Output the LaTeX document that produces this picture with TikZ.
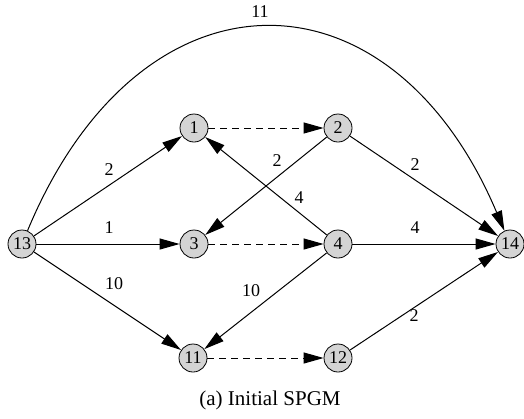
\documentclass[tikz,border=0pt]{standalone}
\usepackage{fontspec}
\setmainfont{Liberation Serif}
\usetikzlibrary{arrows.meta}

\begin{document}
\begin{tikzpicture}[x=1pt,y=-1pt,
	vertex/.style={ circle, draw, line width=0.8pt, fill=black!17, inner sep=0pt, minimum size=28pt, font=\fontsize{18}{18}\selectfont },
	weight/.style={ inner sep=0pt, font=\fontsize{18}{18}\selectfont },
	dep/.style={ line width=1pt, -{Triangle[length=20pt,width=11pt]} },
	seq/.style={ dep, dash pattern=on 7pt off 5pt }
]
\useasboundingbox (0,0) rectangle (524,418);

\node at (22,244) (v13) [vertex] {13};
\node at (194,128) (v1) [vertex] {1};
\node at (338,128) (v2) [vertex] {2};
\node at (194,244) (v3) [vertex] {3};
\node at (338,244) (v4) [vertex] {4};
\node at (510,244) (v14) [vertex] {14};
\node at (193,358) (v11) [vertex] {11};
\node at (338,358) (v12) [vertex] {12};

\draw[dep] (v13) to (v1);
\draw[dep] (v13) to (v3);
\draw[dep] (v13) to (v11);
\draw[dep] (v13) .. controls (140,-40) and (390,-40) .. (v14);
\draw[seq] (v1) to (v2);
\draw[seq] (v3) to (v4);
\draw[seq] (v11) to (v12);
\draw[dep] (v2) to (v3);
\draw[dep] (v4) to (v1);
\draw[dep] (v2) to (v14);
\draw[dep] (v4) to (v14);
\draw[dep] (v4) to (v11);
\draw[dep] (v12) to (v14);

\node at (109,170) (w1) [weight] {2};
\node at (109,228) (w2) [weight] {1};
\node at (114,284) (w3) [weight] {10};
\node at (260,12) (w4) [weight] {11};
\node at (277,161) (w5) [weight] {2};
\node at (299,198) (w6) [weight] {4};
\node at (251,291) (w7) [weight] {10};
\node at (415,165) (w8) [weight] {2};
\node at (415,228) (w9) [weight] {4};
\node at (414,316) (w10) [weight] {2};

\node at (270,400) (cap) [font=\fontsize{21}{21}\selectfont] {(a) Initial SPGM};

\end{tikzpicture}
\end{document}
